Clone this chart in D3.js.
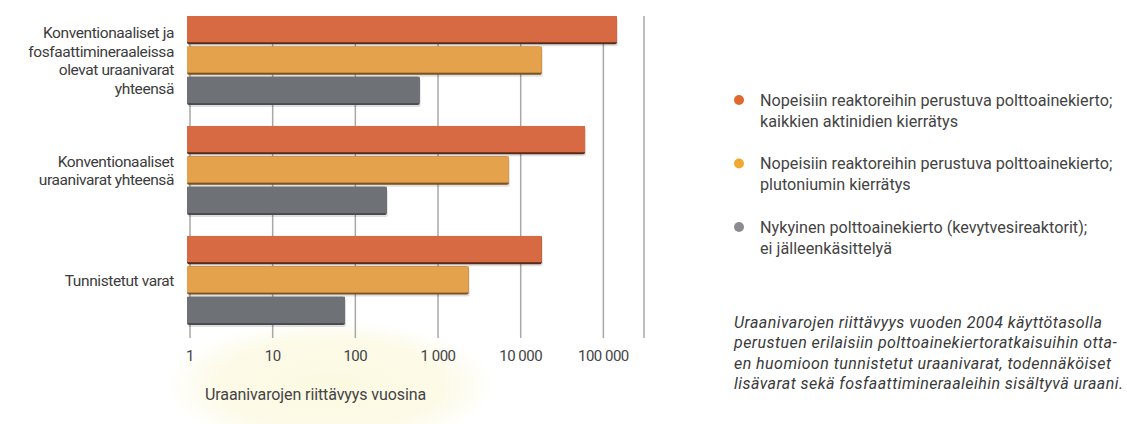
<!DOCTYPE html>
<html>
<head>
<meta charset="utf-8">
<script src="https://cdn.jsdelivr.net/npm/d3@7"></script>
<style>
  body { margin: 0; background: #fff; }
  svg { display: block; font-family: Roboto, "Liberation Sans", sans-serif; }
</style>
</head>
<body>
<div id="chart"></div>
<script>
// data
var categories = [
  ["Konventionaaliset ja", "fosfaattimineraaleissa", "olevat uraanivarat", "yhteensä"],
  ["Konventionaaliset", "uraanivarat yhteensä"],
  ["Tunnistetut varat"]
];
var seriesNames = [
  ["Nopeisiin reaktoreihin perustuva polttoainekierto;", "kaikkien aktinidien kierrätys"],
  ["Nopeisiin reaktoreihin perustuva polttoainekierto;", "plutoniumin kierrätys"],
  ["Nykyinen polttoainekierto (kevytvesireaktorit);", "ei jälleenkäsittelyä"]
];
// years, per category, per series
var fastAllActinides = [146000, 60000, 18000];
var fastPlutonium = [18000, 7200, 2350];
var currentLWR = [600, 240, 75];
var tickValues = [1, 10, 100, 1000, 10000, 100000];
var tickLabels = ["1", "10", "100", "1 000", "10 000", "100 000"];
var axisTitle = "Uraanivarojen riittävyys vuosina";
var note = [
  "Uraanivarojen riittävyys vuoden 2004 käyttötasolla",
  "perustuen erilaisiin polttoainekiertoratkaisuihin otta-",
  "en huomioon tunnistetut uraanivarat, todennäköiset",
  "lisävarat sekä fosfaattimineraaleihin sisältyvä uraani."
];

var barColors = ["#d76a43", "#e4a24c", "#6e7175"];
var edgeColors = ["#5a2a18", "#7a5320", "#4a4c50"];
var dotColors = ["#e0692e", "#f0aa32", "#8b8c90"];

/////////////////////////////////////////////////////////////////////

var W = 1127, H = 424;
var svg = d3.select("#chart").append("svg")
  .attr("width", W).attr("height", H);

var defs = svg.append("defs");
var glow = defs.append("radialGradient").attr("id", "glow");
glow.append("stop").attr("offset", "0%").attr("stop-color", "#fcf9e2").attr("stop-opacity", 1);
glow.append("stop").attr("offset", "70%").attr("stop-color", "#fcf9e2").attr("stop-opacity", 0.8);
glow.append("stop").attr("offset", "100%").attr("stop-color", "#fcf9e2").attr("stop-opacity", 0);

svg.append("ellipse")
  .attr("cx", 330).attr("cy", 385)
  .attr("rx", 165).attr("ry", 65)
  .attr("fill", "url(#glow)");

var seriesData = [fastAllActinides, fastPlutonium, currentLWR];
var groupIdx = d3.range(categories.length);

var x = d3.scaleLog()
  .domain([1, 310000])
  .range([190, 644]);

var y0 = d3.scaleBand()
  .domain(groupIdx)
  .range([16, 325])
  .paddingInner(0.19);

var y1 = d3.scaleBand()
  .domain(d3.range(seriesData.length))
  .range([0, y0.bandwidth()])
  .paddingInner(0.07);

// grid lines
svg.append("g").selectAll("line")
  .data(tickValues.concat([x.domain()[1]]))
  .join("line")
  .attr("x1", d => x(d)).attr("x2", d => x(d))
  .attr("y1", 16).attr("y2", 338)
  .attr("stroke", "#a8a8a8")
  .attr("stroke-width", 1.5);

// bars
var groups = svg.append("g").selectAll("g")
  .data(groupIdx)
  .join("g")
  .attr("transform", g => "translate(0," + y0(g) + ")");

var bars = groups.selectAll("g")
  .data(g => seriesData.map((s, i) => ({ s: i, v: s[g] })))
  .join("g");

var x0 = x(1) - 3;

bars.append("rect")
  .attr("x", x0 + 1)
  .attr("y", d => y1(d.s) + 2)
  .attr("width", d => x(d.v) - x0)
  .attr("height", y1.bandwidth())
  .attr("rx", 2)
  .attr("fill", "#000")
  .attr("opacity", 0.12);

bars.append("rect")
  .attr("x", x0)
  .attr("y", d => y1(d.s))
  .attr("width", d => x(d.v) - x0)
  .attr("height", y1.bandwidth())
  .attr("rx", 2)
  .attr("fill", d => edgeColors[d.s]);

bars.append("rect")
  .attr("x", x0)
  .attr("y", d => y1(d.s))
  .attr("width", d => x(d.v) - x0)
  .attr("height", y1.bandwidth() - 2)
  .attr("fill", d => barColors[d.s]);

// category labels
svg.append("g").selectAll("text")
  .data(groupIdx)
  .join("text")
  .attr("text-anchor", "end")
  .attr("fill", "#3c3c3c")
  .attr("font-size", 15.5)
  .attr("letter-spacing", -0.4)
  .each(function(g) {
    var lines = categories[g];
    var lh = 18.5;
    var cy = y0(g) + y0.bandwidth() / 2 - (lines.length - 1) * lh / 2;
    d3.select(this).selectAll("tspan")
      .data(lines)
      .join("tspan")
      .attr("x", 174)
      .attr("y", (d, i) => cy + i * lh + 5.5)
      .text(d => d);
  });

// x tick labels
svg.append("g").selectAll("text")
  .data(tickValues)
  .join("text")
  .attr("x", d => x(d))
  .attr("y", 361)
  .attr("text-anchor", "middle")
  .attr("font-size", 15)
  .attr("letter-spacing", -0.5)
  .attr("fill", "#444")
  .text((d, i) => tickLabels[i]);

svg.append("text")
  .attr("x", 205).attr("y", 400)
  .attr("font-size", 16)
  .attr("letter-spacing", -0.1)
  .attr("fill", "#444")
  .text(axisTitle);

// legend
var legend = svg.append("g").selectAll("g")
  .data(seriesNames)
  .join("g")
  .attr("transform", (d, i) => "translate(0," + (100 + i * 63.5) + ")");

legend.append("circle")
  .attr("cx", 739).attr("cy", 0).attr("r", 5)
  .attr("fill", (d, i) => dotColors[i]);

legend.append("text")
  .attr("font-size", 16.2)
  .attr("fill", "#444")
  .selectAll("tspan")
  .data(d => d)
  .join("tspan")
  .attr("x", 760)
  .attr("y", (d, i) => 5.5 + i * 21)
  .text(d => d);

// note
svg.append("text")
  .attr("font-size", 16)
  .attr("font-style", "italic")
  .attr("letter-spacing", 0.45)
  .attr("fill", "#3a3a3a")
  .selectAll("tspan")
  .data(note)
  .join("tspan")
  .attr("x", 734)
  .attr("y", (d, i) => 328 + i * 20.3)
  .text(d => d);
</script>
</body>
</html>
